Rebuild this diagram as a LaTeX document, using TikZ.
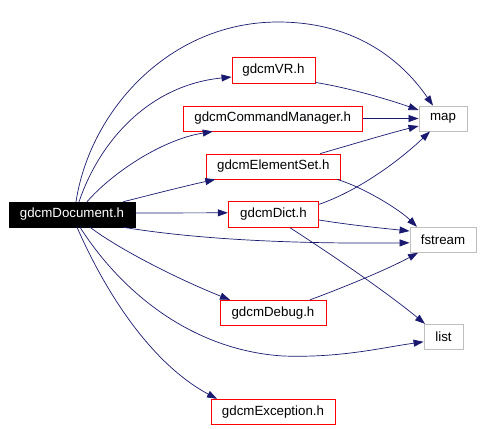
\documentclass[tikz,border=0pt]{standalone}
\usepackage{fontspec}
\setmainfont{Liberation Sans}
\usetikzlibrary{arrows.meta}
\definecolor{edgeblue}{RGB}{25,25,112}
\definecolor{boxgray}{RGB}{191,191,191}
\tikzset{
  hdr/.style={draw=red, line width=0.9pt, fill=white, inner sep=0pt, font=\fontsize{13.3}{15}\selectfont, text=black},
  sys/.style={draw=boxgray, line width=0.9pt, fill=white, inner sep=0pt, font=\fontsize{13.3}{15}\selectfont, text=black},
  root/.style={draw=black, fill=black, inner sep=0pt, font=\fontsize{13.3}{15}\selectfont, text=white},
  dep/.style={draw=edgeblue, line width=0.7pt, -{Triangle[length=10pt,width=7pt]}},
}
\begin{document}
\begin{tikzpicture}[x=1pt,y=-1pt]
\useasboundingbox (0,0) rectangle (483,429);
% nodes
\node[hdr, minimum width=83pt, minimum height=26pt] (vr) at (273.5,70) {gdcmVR.h};
\node[hdr, minimum width=179pt, minimum height=25pt] (cm) at (272.75,118.5) {gdcmCommandManager.h};
\node[sys, minimum width=48pt, minimum height=25pt] (map) at (443,118.5) {map};
\node[hdr, minimum width=134pt, minimum height=25pt] (es) at (273.3,166.5) {gdcmElementSet.h};
\node[root, minimum width=126pt, minimum height=25pt] (doc) at (72,214.5) {gdcmDocument.h};
\node[hdr, minimum width=90.5pt, minimum height=26pt] (dict) at (273.5,214.3) {gdcmDict.h};
\node[sys, minimum width=66pt, minimum height=25pt] (fs) at (443,239.8) {fstream};
\node[hdr, minimum width=106pt, minimum height=25pt] (dbg) at (273,312.8) {gdcmDebug.h};
\node[sys, minimum width=39pt, minimum height=25pt] (list) at (443.5,336.8) {list};
\node[hdr, minimum width=124pt, minimum height=25pt] (exc) at (273,411.8) {gdcmException.h};
% edges from gdcmDocument.h
\draw[dep] ([xshift=4pt]doc.north) .. controls (90,110) and (170,22) .. (278,22) .. controls (360,22) and (405,65) .. ([xshift=-10pt]map.north);
\draw[dep] ([xshift=7pt]doc.north) .. controls (100,140) and (150,85) .. ([yshift=-7pt]vr.west);
\draw[dep] ([xshift=15pt]doc.north) .. controls (110,175) and (160,140) .. ([xshift=-60pt]cm.south);
\draw[dep] ([xshift=51pt]doc.north) .. controls (150,195) and (185,186) .. ([xshift=-58pt]es.south);
\draw[dep] ([yshift=1.5pt]doc.east) -- ([yshift=1.5pt]dict.west);
\draw[dep] ([xshift=51pt]doc.south) .. controls (200,240) and (300,244) .. ([yshift=-3pt]fs.west);
\draw[dep] ([xshift=18pt]doc.south) .. controls (120,250) and (180,280) .. ([xshift=-43pt]dbg.north);
\draw[dep] ([xshift=8pt]doc.south) .. controls (120,290) and (190,350) .. (283,356) .. controls (340,358) and (380,348) .. ([yshift=-5pt]list.west);
\draw[dep] ([xshift=5pt]doc.south) .. controls (100,280) and (145,360) .. ([xshift=-56pt]exc.north);
% other edges
\draw[dep] ([yshift=1pt]vr.south east) .. controls (350,88) and (390,100) .. ([yshift=8.5pt]map.west);
\draw[dep] (cm.east) -- (map.west);
\draw[dep] ([xshift=47pt]es.north) .. controls (350,145) and (390,133) .. ([yshift=-7.5pt]map.west);
\draw[dep] ([xshift=64pt]es.south) .. controls (365,188) and (400,210) .. ([xshift=-26pt]fs.north);
\draw[dep] ([yshift=10pt]dict.east) .. controls (360,190) and (400,160) .. ([xshift=-13pt]map.south);
\draw[dep] ([yshift=-5.7pt]dict.east) .. controls (350,225) and (380,228) .. ([yshift=8.8pt]fs.west);
\draw[dep] ([xshift=16.5pt]dict.south) .. controls (340,260) and (390,295) .. ([xshift=-18.5pt]list.north);
\draw[dep] ([xshift=37pt]dbg.north) .. controls (350,285) and (390,268) .. ([xshift=-25pt]fs.south);
\end{tikzpicture}
\end{document}
